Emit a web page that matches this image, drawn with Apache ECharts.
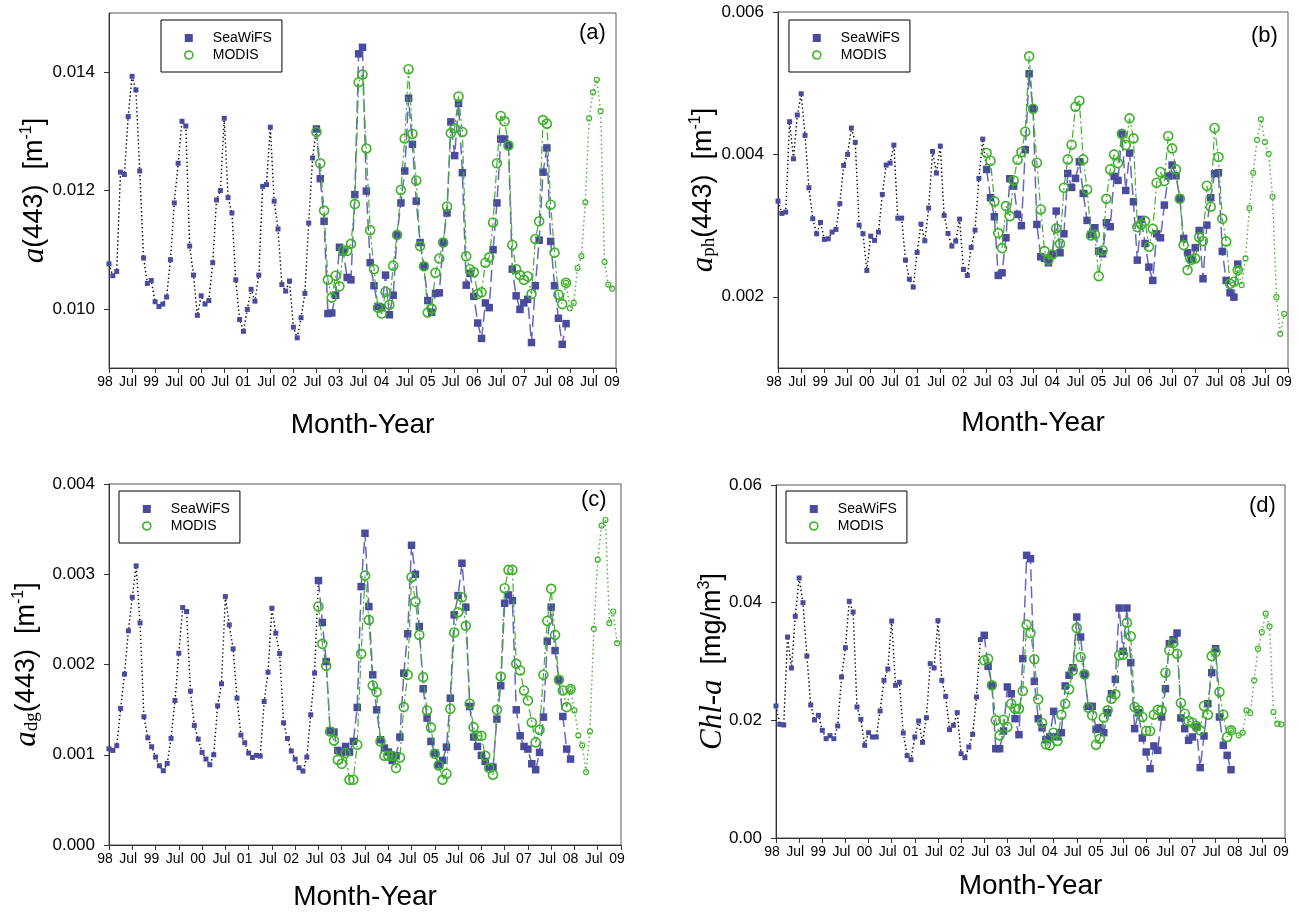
<!DOCTYPE html>
<html><head><meta charset="utf-8">
<script src="https://cdn.jsdelivr.net/npm/echarts@6/dist/echarts.min.js"></script>
<style>html,body{margin:0;padding:0;background:#fff}#c{width:1299px;height:912px}</style>
</head><body><div id="c"></div>
<script>
// x tick labels (every 6 months from Jan 1998 to Jan 2009)
const xTickLabels = ['98','Jul','99','Jul','00','Jul','01','Jul','02','Jul','03','Jul','04','Jul','05','Jul','06','Jul','07','Jul','08','Jul','09'];

// ---------- Panel (a) a(443) ----------
const A_sea1 = [0.01076,0.01056,0.01063,0.01231,0.01227,0.01325,0.01393,0.01370,0.01233,0.01086,
 0.01043,0.01048,0.01012,0.01004,0.01008,0.01020,0.01083,0.01179,0.01246,0.01317,
 0.01309,0.01106,0.01057,0.00989,0.01022,0.01008,0.01014,0.01078,0.01184,0.01200,
 0.01322,0.01188,0.01162,0.01049,0.00982,0.00962,0.00999,0.01033,0.01013,0.01057,
 0.01207,0.01210,0.01307,0.01182,0.01135,0.01041,0.01030,0.01047,0.00969,0.00951,
 0.00985,0.01026,0.01145,0.01255,0.01304];
const A_sea2 = [0.01304,0.01220,0.01148,0.00992,0.00993,0.01023,0.01104,0.01096,0.01053,0.01049,
 0.01193,0.01431,0.01442,0.01199,0.01078,0.01039,0.01004,0.01002,0.01057,0.00990,
 0.01023,0.01125,0.01179,0.01233,0.01356,0.01278,0.01182,0.01112,0.01072,0.01014,
 0.00994,0.01026,0.01027,0.01112,0.01162,0.01316,0.01259,0.01347,0.01230,0.01040,
 0.01060,0.01021,0.00976,0.00950,0.01010,0.01002,0.01100,0.01179,0.01287,0.01287,
 0.01276,0.01067,0.01022,0.00999,0.01010,0.01016,0.00943,0.01039,0.01116,0.01231,
 0.01272,0.01114,0.01039,0.00984,0.00940,0.00975];
const A_mod1 = [0.01299,0.01246,0.01166,0.01049,0.01019,0.01056,0.01038,0.01099,0.01098,0.01110,
 0.01177,0.01383,0.01396,0.01271,0.01133,0.01067,0.01002,0.00992,0.01029,0.01007,
 0.01073,0.01125,0.01201,0.01288,0.01405,0.01296,0.01217,0.01106,0.01072,0.00994,
 0.01000,0.01061,0.01085,0.01112,0.01173,0.01297,0.01305,0.01359,0.01299,0.01089,
 0.01067,0.01062,0.01025,0.01028,0.01078,0.01087,0.01146,0.01246,0.01326,0.01317,
 0.01276,0.01108,0.01067,0.01057,0.01049,0.01055,0.01025,0.01118,0.01148,0.01319,
 0.01313,0.01176,0.01095,0.01024,0.01008,0.01044];
const A_mod2 = [0.01044,0.01001,0.01010,0.01069,0.01089,0.01180,0.01322,0.01366,0.01387,0.01334,0.01079,0.01041,0.01034];

// ---------- Panel (b) aph(443) ----------
const B_sea1 = [0.003344,0.003171,0.003190,0.004459,0.003939,0.004553,0.004852,0.004267,0.003532,0.003096,
 0.002885,0.003044,0.002806,0.002815,0.002909,0.002946,0.003307,0.003845,0.004000,0.004370,
 0.004169,0.003007,0.002885,0.002370,0.002852,0.002792,0.002909,0.003438,0.003850,0.003878,
 0.004131,0.003105,0.003105,0.002515,0.002248,0.002136,0.002623,0.003021,0.002787,0.003246,
 0.004042,0.003738,0.004117,0.003143,0.002890,0.002712,0.002782,0.003091,0.002384,0.002300,
 0.002693,0.002937,0.003663,0.004215,0.003789];
const B_sea2 = [0.003789,0.003391,0.003124,0.002300,0.002337,0.002829,0.003658,0.003555,0.003157,0.002998,
 0.004066,0.005133,0.004641,0.003016,0.002562,0.002540,0.002478,0.002595,0.003204,0.002618,
 0.002885,0.003733,0.003536,0.003663,0.003897,0.003452,0.003073,0.002876,0.002970,0.002642,
 0.002604,0.003040,0.002984,0.003691,0.003635,0.004286,0.003494,0.004019,0.003335,0.002515,
 0.003087,0.002749,0.002417,0.002230,0.002885,0.002829,0.003288,0.003696,0.003850,0.003700,
 0.003382,0.002820,0.002618,0.002525,0.002689,0.002932,0.002253,0.003007,0.003391,0.003728,
 0.003742,0.002637,0.002230,0.002056,0.001995,0.002459];
const B_mod1 = [0.004019,0.003911,0.003340,0.002895,0.002684,0.003274,0.003133,0.003634,0.003925,0.004033,
 0.004319,0.005377,0.004641,0.003883,0.003227,0.002642,0.002520,0.002595,0.002960,0.002745,
 0.003532,0.003930,0.004136,0.004670,0.004754,0.003930,0.003508,0.002862,0.002876,0.002290,
 0.002651,0.003377,0.003789,0.004000,0.003878,0.004290,0.004131,0.004506,0.004225,0.002979,
 0.003016,0.003063,0.002703,0.002955,0.003602,0.003752,0.003625,0.004258,0.004084,0.003789,
 0.003377,0.002726,0.002375,0.002520,0.002539,0.002838,0.002782,0.003560,0.003265,0.004370,
 0.003963,0.003096,0.002778,0.002183,0.002211,0.002375];
const B_mod2 = [0.002375,0.002164,0.002539,0.003246,0.003742,0.004206,0.004492,0.004173,0.004009,0.003405,0.001995,0.001480,0.001761];

// ---------- Panel (c) adg(443) ----------
const C_sea1 = [0.001066,0.001048,0.001100,0.001513,0.001893,0.002373,0.002745,0.003092,0.002461,0.001421,
 0.001188,0.001089,0.000974,0.000878,0.000823,0.000904,0.001181,0.001601,0.002125,0.002631,
 0.002587,0.001705,0.001325,0.001173,0.001026,0.000952,0.000889,0.001000,0.001542,0.001786,
 0.002753,0.002439,0.002173,0.001627,0.001218,0.001133,0.001018,0.000970,0.000993,0.000985,
 0.001590,0.001915,0.002624,0.002347,0.002122,0.001354,0.001181,0.001041,0.000952,0.000856,
 0.000819,0.000974,0.001443,0.001904,0.002930];
const C_sea2 = [0.002930,0.002465,0.002033,0.001266,0.001251,0.001048,0.001026,0.001092,0.001030,0.001148,
 0.001524,0.002863,0.003454,0.002642,0.001886,0.001498,0.001166,0.001074,0.001030,0.000937,
 0.000989,0.001196,0.001904,0.002340,0.003321,0.003000,0.002421,0.001731,0.001406,0.001148,
 0.001018,0.000889,0.000937,0.001085,0.001627,0.002550,0.002764,0.003122,0.002635,0.001535,
 0.001196,0.001092,0.000993,0.000926,0.000863,0.000863,0.001395,0.001764,0.002679,0.002771,
 0.002708,0.001498,0.001210,0.001092,0.001063,0.000900,0.000834,0.001026,0.001417,0.002258,
 0.002635,0.002155,0.001830,0.001424,0.001063,0.000952];
const C_mod1 = [0.002642,0.002229,0.001985,0.001258,0.001159,0.000945,0.000900,0.001018,0.000723,0.000723,
 0.001111,0.002118,0.002985,0.002494,0.001768,0.001694,0.001148,0.000989,0.000989,0.000989,
 0.000852,0.000970,0.001528,0.001886,0.002967,0.002697,0.002328,0.001860,0.001491,0.001303,
 0.001011,0.000882,0.000723,0.000790,0.001509,0.002354,0.002579,0.002745,0.002428,0.001565,
 0.001306,0.001210,0.001210,0.000989,0.000852,0.000779,0.001498,0.001867,0.002845,0.003048,
 0.003048,0.002007,0.001934,0.001712,0.001601,0.001358,0.001137,0.001277,0.001886,0.002483,
 0.002838,0.002328,0.001830,0.001712,0.001528,0.001727];
const C_mod2 = [0.001727,0.001491,0.001214,0.001103,0.000808,0.001258,0.002395,0.003162,0.003539,0.003601,0.002458,0.002587,0.002236];

// ---------- Panel (d) Chl-a ----------
const D_sea1 = [0.02244,0.01932,0.01921,0.03416,0.0289,0.03768,0.04419,0.04,0.03093,0.02261,
 0.02006,0.02085,0.0183,0.01688,0.01739,0.01688,0.01904,0.02737,0.03235,0.04023,
 0.03841,0.02227,0.02017,0.01575,0.0179,0.01717,0.01717,0.02159,0.0268,0.02873,
 0.03688,0.02595,0.02646,0.01785,0.014,0.01331,0.01717,0.01989,0.01626,0.02045,
 0.02963,0.0289,0.03694,0.0268,0.02408,0.01841,0.01915,0.0213,0.01433,0.01365,
 0.01547,0.01762,0.02397,0.03371,0.03445];
const D_sea2 = [0.03445,0.02918,0.02595,0.01518,0.01518,0.01819,0.02567,0.02453,0.02028,0.01756,
 0.03048,0.04805,0.04748,0.02663,0.02028,0.01875,0.01671,0.01717,0.02153,0.0172,
 0.0179,0.02584,0.02765,0.02895,0.03756,0.03416,0.02776,0.02238,0.02238,0.01847,
 0.01875,0.0179,0.0213,0.02453,0.02697,0.03909,0.03173,0.03909,0.0298,0.01858,
 0.0213,0.017,0.01462,0.01178,0.01564,0.0149,0.02057,0.02538,0.03303,0.03371,
 0.03484,0.0204,0.01858,0.0166,0.01717,0.01887,0.01196,0.01734,0.02283,0.0281,
 0.03218,0.02057,0.01575,0.01405,0.01161];
const D_mod1 = [0.0302,0.03048,0.02595,0.02,0.01745,0.02011,0.01887,0.02283,0.02198,0.02198,
 0.02499,0.03626,0.03484,0.03037,0.02357,0.01955,0.01592,0.01575,0.0179,0.01649,
 0.02096,0.02283,0.02527,0.0285,0.03569,0.03076,0.02782,0.02215,0.02085,0.01586,
 0.01688,0.02045,0.0217,0.02368,0.02442,0.03105,0.03116,0.0366,0.03428,0.02227,
 0.0217,0.02057,0.01819,0.01819,0.02096,0.02181,0.0217,0.0281,0.0319,0.03314,
 0.03133,0.02295,0.02113,0.01989,0.0196,0.01904,0.0183,0.02244,0.02096,0.03093,
 0.03161,0.02482,0.02096,0.01717,0.0183];
const D_mod2 = [0.0183,null,0.01745,0.0179,0.0217,0.02125,0.0268,0.03218,0.03501,0.03813,0.03598,0.02142,0.01943,0.01932];

// start months (0 = Jan 1998)
const START_SEA1 = 0, START_SEA2 = 54, START_MOD1 = 54, START_MOD2_ABC = 119, START_MOD2_D = 118;

// y axis ranges & labels
const yCfg = [
  {min:0.009, max:0.015, ticks:[0.010,0.012,0.014], dec:3},
  {min:0.001, max:0.006, ticks:[0.002,0.004,0.006], dec:3},
  {min:0.000, max:0.004, ticks:[0.000,0.001,0.002,0.003,0.004], dec:3},
  {min:0.00, max:0.06, ticks:[0.00,0.02,0.04,0.06], dec:2}
];

const BLUE = '#4a4a9e', BLUE_LINE = '#6767bd', GREEN = '#3fb22b';
const pairs = (start, arr) => arr.map((v, i) => [start + i, v]);

const grids = [
  {left:109, top:13, width:507, height:355},
  {left:778, top:12, width:510, height:356},
  {left:109, top:484, width:512, height:362},
  {left:776, top:485, width:509, height:353}
];

const yNames = [
  '{i|a}{n|(443)  [m}{sup|-1}{n|]}',
  '{i|a}{sub|ph}{n|(443)  [m}{sup|-1}{n|]}',
  '{i|a}{sub|dg}{n|(443)  [m}{sup|-1}{n|]}',
  '{i|Chl-a}{n|  [mg/m}{sup|3}{n|]}'
];
const yNameGap = [59, 59, 67, 48];
const xNameGap = [43, 41, 38, 34];

const rich = {
  i: {fontFamily:'Liberation Serif', fontStyle:'italic', fontSize:31, color:'#000'},
  n: {fontFamily:'Liberation Sans', fontSize:27, color:'#000'},
  sup: {fontFamily:'Liberation Sans', fontSize:16, color:'#000', verticalAlign:'top', padding:[0,0,14,0]},
  sub: {fontFamily:'Liberation Serif', fontSize:19, color:'#000', verticalAlign:'bottom', padding:[10,0,0,0]}
};

const xAxes = grids.map((g, k) => ({
  gridIndex:k, type:'value', min:0, max:132, interval:6,
  name:'Month-Year', nameLocation:'middle', nameGap:xNameGap[k], nameMoveOverlap:false,
  nameTextStyle:{fontFamily:'Liberation Sans', fontSize:28, color:'#000'},
  axisLine:{show:true, lineStyle:{color:'#333', width:1}},
  axisTick:{show:true, length:5, lineStyle:{color:'#333'}},
  axisLabel:{fontFamily:'Liberation Sans', fontSize:14, color:'#000', margin:7, padding:[0,8,0,0],
    formatter:v => xTickLabels[Math.round(v/6)] || ''},
  splitLine:{show:false}
}));

const yAxes = grids.map((g, k) => ({
  gridIndex:k, type:'value', min:yCfg[k].min, max:yCfg[k].max,
  name:yNames[k], nameLocation:'middle', nameGap:yNameGap[k], nameRotate:90, nameMoveOverlap:false,
  nameTextStyle:{rich:rich},
  axisLine:{show:true, lineStyle:{color:'#333', width:1}},
  axisTick:{show:true, length:5, lineStyle:{color:'#333'}, customValues:yCfg[k].ticks},
  axisLabel:{fontFamily:'Liberation Sans', fontSize:17, color:'#000', margin:14,
    customValues:yCfg[k].ticks, formatter:v => v.toFixed(yCfg[k].dec)},
  splitLine:{show:false}
}));

const panels = [
  [A_sea1, A_sea2, A_mod1, A_mod2, START_MOD2_ABC],
  [B_sea1, B_sea2, B_mod1, B_mod2, START_MOD2_ABC],
  [C_sea1, C_sea2, C_mod1, C_mod2, START_MOD2_ABC],
  [D_sea1, D_sea2, D_mod1, D_mod2, START_MOD2_D]
];

const series = [];
panels.forEach((p, k) => {
  series.push({
    name:'SeaWiFS', type:'line', xAxisIndex:k, yAxisIndex:k, data:pairs(START_SEA1, p[0]),
    symbol:'rect', symbolSize:5, itemStyle:{color:BLUE},
    lineStyle:{color:'#000', width:1.4, type:[1.4,2.6]}, z:2
  });
  series.push({
    name:'SeaWiFS', type:'line', xAxisIndex:k, yAxisIndex:k, data:pairs(START_SEA2, p[1]),
    symbol:'rect', symbolSize:7.5, itemStyle:{color:BLUE},
    lineStyle:{color:BLUE_LINE, width:1.5, type:[12,5]}, z:3
  });
  series.push({
    name:'MODIS', type:'line', xAxisIndex:k, yAxisIndex:k, data:pairs(START_MOD1, p[2]),
    symbol:'circle', symbolSize:9, itemStyle:{color:'rgba(255,255,255,0)', borderColor:GREEN, borderWidth:1.6},
    lineStyle:{color:GREEN, width:1.2, type:[8,3,2,3]}, z:4
  });
  series.push({
    name:'MODIS', type:'line', xAxisIndex:k, yAxisIndex:k, data:pairs(p[4], p[3]), connectNulls:true,
    symbol:'circle', symbolSize:5, itemStyle:{color:'rgba(255,255,255,0)', borderColor:GREEN, borderWidth:1.2},
    lineStyle:{color:GREEN, width:1.4, type:[1.4,3]}, z:4
  });
});

const legendPos = [[161,20],[789,20],[119,491],[786,491]];
const legends = legendPos.map(pos => ({
  left:pos[0], top:pos[1], orient:'vertical',
  backgroundColor:'#fff', borderColor:'#000', borderWidth:1,
  padding:[11,10,10,23], itemGap:3, itemWidth:8, itemHeight:8,
  textStyle:{fontFamily:'Liberation Sans', fontSize:14, color:'#000', padding:[0,0,0,15]},
  selectedMode:false,
  data:[
    {name:'SeaWiFS', icon:'rect', itemStyle:{color:BLUE, borderWidth:0}},
    {name:'MODIS', icon:'circle', itemStyle:{color:'#fff', borderColor:GREEN, borderWidth:1.6}}
  ]
}));

const panelLabels = [['(a)',579,22],['(b)',1251,25],['(c)',581,489],['(d)',1249,495]];
const graphic = panelLabels.map(l => ({
  type:'text', left:l[1], top:l[2],
  style:{text:l[0], fontFamily:'Liberation Sans', fontSize:22, fill:'#000'}
}));

const chart = echarts.init(document.getElementById('c'), null, {renderer:'canvas'});
chart.setOption({
  animation:false,
  backgroundColor:'#fff',
  grid:grids.map(g => Object.assign({show:true, borderColor:'#555', borderWidth:1, backgroundColor:'transparent'}, g)),
  xAxis:xAxes, yAxis:yAxes, legend:legends, series:series, graphic:graphic
});
</script></body></html>
